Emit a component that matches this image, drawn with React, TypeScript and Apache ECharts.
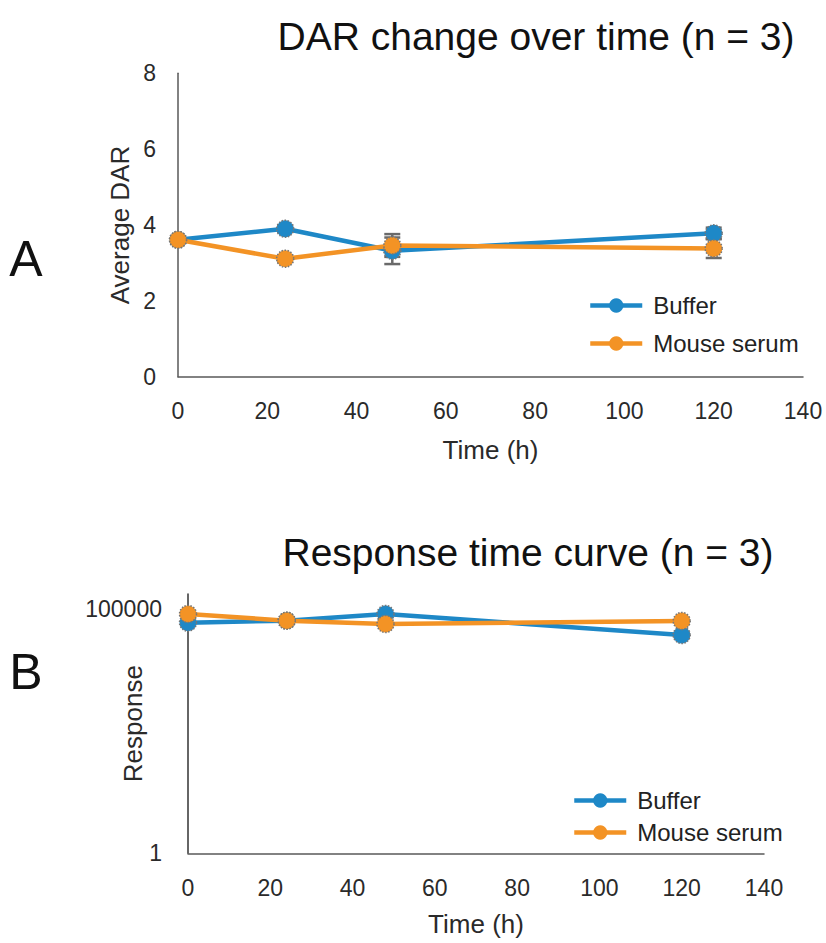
import React, { useEffect, useRef } from "react";
import * as echarts from "echarts";

// ---- data ----
const hours = [0, 24, 48, 120];
const xTicks = [0, 20, 40, 60, 80, 100, 120, 140];

const darBuffer = [3.61, 3.9, 3.32, 3.78];
const darSerum = [3.61, 3.11, 3.46, 3.38];
const darBufferErr = [0.08, 0.08, 0.35, 0.15];
const darSerumErr = [0.08, 0.08, 0.3, 0.25];

const respBuffer = [51800, 56900, 78000, 29000];
const respSerum = [78000, 56900, 48600, 56100];
const respBufferErr = [3000, 3000, 3000, 3000];
const respSerumErr = [3000, 3000, 3000, 3000];

const respTicks = [1, 100000];

const seriesNames = ["Buffer", "Mouse serum"];
const titles = ["DAR change over time (n = 3)", "Response time curve (n = 3)"];

const BLUE = "#1E88C7";
const ORANGE = "#F39325";
const FONT = "'Liberation Sans', Arial, sans-serif";

function errData(vals: number[], errs: number[]) {
  return hours.map((h, i) => [h, vals[i] - errs[i], vals[i] + errs[i]]);
}

function lineData(vals: number[]) {
  return hours.map((h, i) => [h, vals[i]]);
}

const errRender = (params: any, api: any) => {
  const x = api.value(0);
  const lo = api.value(1);
  const hi = api.value(2);
  const p1 = api.coord([x, hi]);
  const p2 = api.coord([x, lo]);
  const hw = 8;
  const style = { stroke: "#6a6a6a", lineWidth: 2.5 };
  return {
    type: "group",
    children: [
      { type: "line", shape: { x1: p1[0], y1: p1[1], x2: p2[0], y2: p2[1] }, style },
      { type: "line", shape: { x1: p1[0] - hw, y1: p1[1], x2: p1[0] + hw, y2: p1[1] }, style },
      { type: "line", shape: { x1: p2[0] - hw, y1: p2[1], x2: p2[0] + hw, y2: p2[1] }, style },
    ],
  };
};

function lineSeries(name: string, color: string, data: number[][], idx: number) {
  return {
    type: "line",
    name,
    xAxisIndex: idx,
    yAxisIndex: idx,
    data,
    z: 3,
    symbol: "circle",
    symbolSize: 17,
    lineStyle: { color, width: 4.5 },
    itemStyle: { color, borderColor: "#777", borderWidth: 1.5, borderType: "dotted" },
  };
}

function errSeries(name: string, data: number[][], idx: number) {
  return {
    type: "custom",
    name,
    xAxisIndex: idx,
    yAxisIndex: idx,
    data,
    z: 2,
    encode: { x: 0, y: [1, 2] },
    renderItem: errRender,
  };
}

const axisLine = { show: true, onZero: false, lineStyle: { color: "#595959", width: 1.5 } };

function xAxis(idx: number, gap: number) {
  return {
    gridIndex: idx,
    type: "value",
    min: xTicks[0],
    max: xTicks[xTicks.length - 1],
    interval: 20,
    axisLine,
    axisTick: { show: false },
    splitLine: { show: false },
    axisLabel: { fontSize: 23, color: "#2a2a2a", margin: 23, fontFamily: FONT },
    name: "Time (h)",
    nameLocation: "middle",
    nameGap: gap,
    nameMoveOverlap: false,
    nameTextStyle: { fontSize: 26, color: "#2a2a2a", fontFamily: FONT },
  };
}

const legendBase = {
  orient: "vertical",
  itemWidth: 52,
  itemHeight: 18,
  data: seriesNames,
  textStyle: { fontSize: 24, color: "#222", fontFamily: FONT, padding: [0, 0, 0, 6] },
  itemStyle: { borderWidth: 0 },
  lineStyle: { width: 4.5 },
  selectedMode: false,
};

export default function App() {
  const ref = useRef<HTMLDivElement>(null);
  useEffect(() => {
    if (!ref.current) return;
    const chart = echarts.init(ref.current, null, { renderer: "svg" });
    const option: any = {
      animation: false,
      backgroundColor: "#fff",
      textStyle: { fontFamily: FONT },
      grid: [
        { left: 178, top: 73.3, width: 625, height: 303.4 },
        { left: 188, top: 594, width: 576, height: 259.3 },
      ],
      xAxis: [xAxis(0, 60), xAxis(1, 58)],
      yAxis: [
        {
          gridIndex: 0,
          type: "value",
          min: 0,
          max: 8,
          interval: 2,
          axisLine,
          axisTick: { show: false },
          splitLine: { show: false },
          axisLabel: { fontSize: 23, color: "#2a2a2a", margin: 22, fontFamily: FONT },
          name: "Average DAR",
          nameLocation: "middle",
          nameGap: 45,
          nameRotate: 90,
          nameMoveOverlap: false,
          nameTextStyle: { fontSize: 26, color: "#2a2a2a", fontFamily: FONT },
        },
        {
          gridIndex: 1,
          type: "log",
          logBase: 10,
          min: 1,
          max: 200000,
          axisLine: { ...axisLine, lineStyle: { color: "#333", width: 1.5 } },
          axisTick: { show: false },
          splitLine: { show: false },
          axisLabel: {
            fontSize: 23,
            color: "#2a2a2a",
            margin: 26,
            fontFamily: FONT,
            customValues: respTicks,
            formatter: (v: number) => {
              const r = Math.round(v);
              return respTicks.indexOf(r) >= 0 ? String(r) : "";
            },
          },
          name: "Response",
          nameLocation: "middle",
          nameGap: 42,
          nameRotate: 90,
          nameMoveOverlap: false,
          nameTextStyle: { fontSize: 26, color: "#2a2a2a", fontFamily: FONT },
        },
      ],
      legend: [
        { ...legendBase, left: 583, top: 288.5, itemGap: 14 },
        { ...legendBase, left: 567, top: 783.5, itemGap: 8 },
      ],
      graphic: [
        {
          type: "text",
          x: 536,
          y: 36,
          style: { text: titles[0], fill: "#111", font: `39px ${FONT}`, textAlign: "center", textVerticalAlign: "middle" },
        },
        {
          type: "text",
          x: 528,
          y: 552,
          style: { text: titles[1], fill: "#111", font: `39px ${FONT}`, textAlign: "center", textVerticalAlign: "middle" },
        },
        {
          type: "text",
          x: 26,
          y: 259,
          style: { text: "A", font: `50px ${FONT}`, fill: "#111", textAlign: "center", textVerticalAlign: "middle" },
        },
        {
          type: "text",
          x: 26,
          y: 672,
          style: { text: "B", font: `50px ${FONT}`, fill: "#111", textAlign: "center", textVerticalAlign: "middle" },
        },
      ],
      series: [
        errSeries("errBufA", errData(darBuffer, darBufferErr), 0),
        errSeries("errSerA", errData(darSerum, darSerumErr), 0),
        lineSeries(seriesNames[0], BLUE, lineData(darBuffer), 0),
        lineSeries(seriesNames[1], ORANGE, lineData(darSerum), 0),
        errSeries("errBufB", errData(respBuffer, respBufferErr), 1),
        errSeries("errSerB", errData(respSerum, respSerumErr), 1),
        lineSeries(seriesNames[0], BLUE, lineData(respBuffer), 1),
        lineSeries(seriesNames[1], ORANGE, lineData(respSerum), 1),
      ],
    };
    chart.setOption(option);
    return () => chart.dispose();
  }, []);
  return (
    <div
      ref={ref}
      style={{ position: "absolute", left: 0, top: 0, width: 826, height: 943 }}
    />
  );
}
